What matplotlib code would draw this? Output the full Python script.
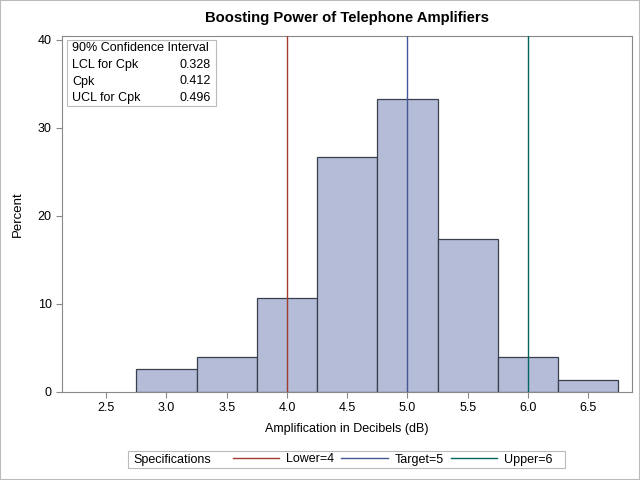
import matplotlib
matplotlib.use("Agg")
import matplotlib.pyplot as plt
from matplotlib.lines import Line2D
from matplotlib.patches import Rectangle

plt.rcParams["font.family"] = ["Liberation Sans", "DejaVu Sans"]

# histogram data (midpoints, percent)
midpoints = [3.0, 3.5, 4.0, 4.5, 5.0, 5.5, 6.0, 6.5]
percents = [2.67, 4.0, 10.67, 26.67, 33.33, 17.33, 4.0, 1.33]
bin_width = 0.5

# spec limits
spec_names = ["Lower", "Target", "Upper"]
spec_values = [4, 5, 6]
spec_colors = ["#A23A2E", "#445694", "#01665E"]

# cpk table
ci_labels = ["LCL for Cpk", "Cpk", "UCL for Cpk"]
ci_values = ["0.328", "0.412", "0.496"]

xticks = [2.5, 3.0, 3.5, 4.0, 4.5, 5.0, 5.5, 6.0, 6.5]
yticks = [0, 10, 20, 30, 40]

fig = plt.figure(figsize=(6.4, 4.8), dpi=100)
ax = fig.add_axes([62 / 640, 88 / 480, 570 / 640, 356 / 480])

ax.bar(midpoints, percents, width=bin_width, color="#B4BCD8",
       edgecolor="#3A3F50", linewidth=0.9, zorder=2)
for v, c in zip(spec_values, spec_colors):
    ax.axvline(v, color=c, linewidth=1, zorder=3)

ax.set_xlim(2.133, 6.863)
ax.set_ylim(0, 40.45)
ax.set_xticks(xticks)
ax.set_xticklabels([f"{t:.1f}" for t in xticks])
ax.set_yticks(yticks)
ax.tick_params(labelsize=9, length=4, color="#888888", labelcolor="black")
for s in ax.spines.values():
    s.set_color("#888888")
ax.set_xlabel("Amplification in Decibels (dB)", fontsize=9, labelpad=6)
ax.set_ylabel("Percent", fontsize=9.5, labelpad=10)
ax.set_title("Boosting Power of Telephone Amplifiers", fontsize=10.7,
             fontweight="bold", pad=10)

# inset table
fig.patches.append(Rectangle((67 / 640, 1 - 106 / 480), 149 / 640, 66 / 480,
                             transform=fig.transFigure, facecolor="white",
                             edgecolor="#BBBBBB", linewidth=0.8, zorder=5))
fig.text(72 / 640, 1 - 48 / 480, "90% Confidence Interval", fontsize=9,
         va="center", zorder=6)
for i, (lab, val) in enumerate(zip(ci_labels, ci_values)):
    y = 1 - (65 + i * 16.5) / 480
    fig.text(72 / 640, y, lab, fontsize=9, va="center", zorder=6)
    fig.text(211 / 640, y, val, fontsize=9, va="center", ha="right", zorder=6)

# legend
fig.patches.append(Rectangle((128 / 640, 1 - 468 / 480), 437 / 640, 17 / 480,
                             transform=fig.transFigure, facecolor="white",
                             edgecolor="#BBBBBB", linewidth=0.8))
fig.text(133 / 640, 1 - 459.5 / 480, "Specifications", fontsize=9, va="center")
handles = [Line2D([], [], color=c, linewidth=1) for c in spec_colors]
labels = [f"{n}={v}" for n, v in zip(spec_names, spec_values)]
fig.legend(handles, labels, ncol=3, frameon=False, fontsize=9,
           loc="center left", bbox_to_anchor=(233 / 640, 1 - 459.5 / 480),
           handlelength=3.7, handletextpad=0.56, columnspacing=0.56,
           borderpad=0, borderaxespad=0)

# outer border
fig.patches.append(Rectangle((0, 0), 1, 1, transform=fig.transFigure,
                             facecolor="none", edgecolor="#BBBBBB", linewidth=1.5))

fig.savefig("out.png", dpi=100)
